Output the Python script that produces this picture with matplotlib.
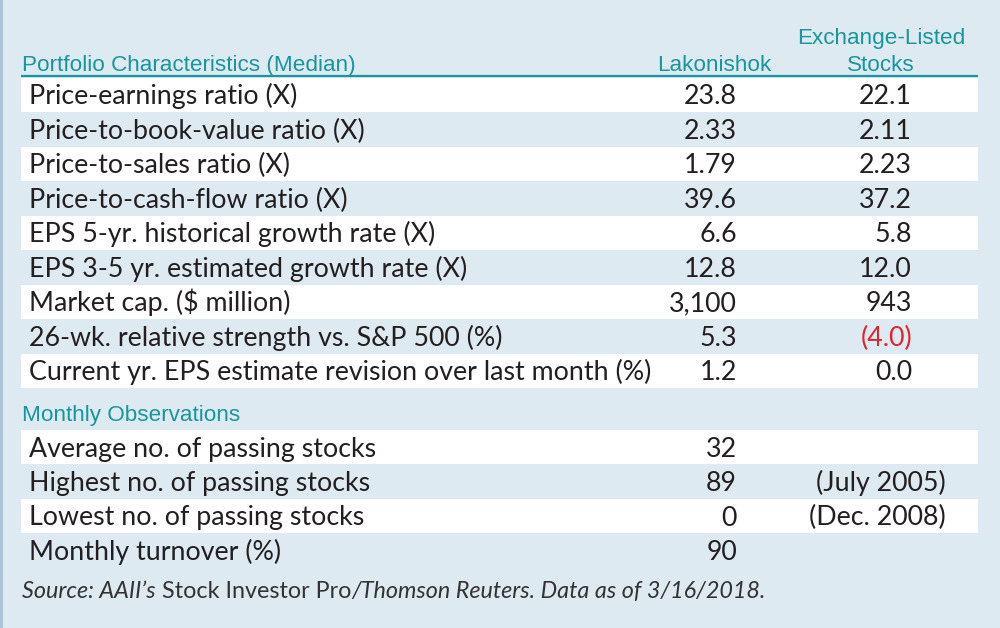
import matplotlib
matplotlib.use("Agg")
import matplotlib.pyplot as plt
from matplotlib import font_manager
from matplotlib.patches import Rectangle

# --- table content -------------------------------------------------------
col_headers = ["Lakonishok", "Exchange-Listed\nStocks"]
section1_title = "Portfolio Characteristics (Median)"
section1_labels = [
    "Price-earnings ratio (X)",
    "Price-to-book-value ratio (X)",
    "Price-to-sales ratio (X)",
    "Price-to-cash-flow ratio (X)",
    "EPS 5-yr. historical growth rate (X)",
    "EPS 3-5 yr. estimated growth rate (X)",
    "Market cap. ($ million)",
    "26-wk. relative strength vs. S&P 500 (%)",
    "Current yr. EPS estimate revision over last month (%)",
]
section1_lak = ["23.8", "2.33", "1.79", "39.6", "6.6", "12.8", "3,100", "5.3", "1.2"]
section1_exch = ["22.1", "2.11", "2.23", "37.2", "5.8", "12.0", "943", "(4.0)", "0.0"]

section2_title = "Monthly Observations"
section2_labels = [
    "Average no. of passing stocks",
    "Highest no. of passing stocks",
    "Lowest no. of passing stocks",
    "Monthly turnover (%)",
]
section2_lak = ["32", "89", "0", "90"]
section2_exch = ["", "(July 2005)", "(Dec. 2008)", ""]

source_parts = [("Source: AAII\u2019s", "italic"), (" Stock Investor Pro", "normal"),
                ("/Thomson Reuters. Data as of 3/16/2018.", "italic")]

# --- style ---------------------------------------------------------------
BG = "#deeaf2"
TEAL = "#17969c"
RED = "#e2232f"
INK = "#231f20"

names = {f.name for f in font_manager.fontManager.ttflist}
BODY_FONT = "Lato" if "Lato" in names else "DejaVu Sans"
BODY_SIZE = 19.3 if BODY_FONT == "Lato" else 17
SRC_SIZE = 16.8 if BODY_FONT == "Lato" else 14
HEAD_FONT = "Liberation Sans" if "Liberation Sans" in names else "DejaVu Sans"
HEAD_SIZE = 16.2

fig = plt.figure(figsize=(10, 6.28), dpi=100)
fig.patch.set_facecolor(BG)
ax = fig.add_axes([0, 0, 1, 1])
ax.set_xlim(0, 1000)
ax.set_ylim(628, 0)
ax.axis("off")

# left border strip
ax.add_patch(Rectangle((0, 0), 2.5, 628, color="#a9c7d7", lw=0))

X_LEFT, X_RIGHT = 21, 978
X_LABEL = 29
X_LAK = 737
X_EXCH = 912
X_EXCH_TXT = 946

# column headers
ax.text(X_LEFT + 1, 71, section1_title, color=TEAL, fontsize=HEAD_SIZE,
        family=HEAD_FONT, ha="left", va="baseline")
ax.text(714, 71, col_headers[0], color=TEAL, fontsize=HEAD_SIZE,
        family=HEAD_FONT, ha="center", va="baseline")
ax.text(881, 71, col_headers[1], color=TEAL, fontsize=HEAD_SIZE,
        family=HEAD_FONT, ha="center", va="baseline", linespacing=1.38,
        multialignment="center")
ax.plot([X_LEFT, X_RIGHT], [76, 76], color=TEAL, lw=1.6, solid_capstyle="butt")


def draw_rows(top, height, labels, lak, exch, red_neg):
    for i, (lab, a, b) in enumerate(zip(labels, lak, exch)):
        y0 = top + i * height
        if i % 2 == 0:
            ax.add_patch(Rectangle((X_LEFT, y0), X_RIGHT - X_LEFT, height,
                                   color="white", lw=0))
        yb = y0 + height / 2 + 9.5
        ax.text(X_LABEL, yb, lab, color=INK, fontsize=BODY_SIZE,
                family=BODY_FONT, ha="left", va="baseline")
        ax.text(X_LAK, yb, a, color=INK, fontsize=BODY_SIZE,
                family=BODY_FONT, ha="right", va="baseline")
        if b:
            is_num = b.startswith("(") and b[1].isdigit()
            col = RED if (red_neg and is_num) else INK
            xb = X_EXCH if (b[0].isdigit() or is_num) else X_EXCH_TXT
            ax.text(xb, yb, b, color=col, fontsize=BODY_SIZE,
                    family=BODY_FONT, ha="right", va="baseline")


draw_rows(77.5, 34.5, section1_labels, section1_lak, section1_exch, True)

ax.text(X_LEFT + 1, 421, section2_title, color=TEAL, fontsize=HEAD_SIZE,
        family=HEAD_FONT, ha="left", va="baseline")
draw_rows(430, 34.4, section2_labels, section2_lak, section2_exch, False)

# source line with mixed italic / roman pieces
fig.canvas.draw()
renderer = fig.canvas.get_renderer()
x = X_LEFT + 1
for txt, style in source_parts:
    t = ax.text(x, 598, txt, color="#333333", fontsize=SRC_SIZE,
                family=BODY_FONT, style=style, ha="left", va="baseline")
    x += t.get_window_extent(renderer=renderer).width

fig.savefig("out.png", dpi=100, facecolor=BG)
